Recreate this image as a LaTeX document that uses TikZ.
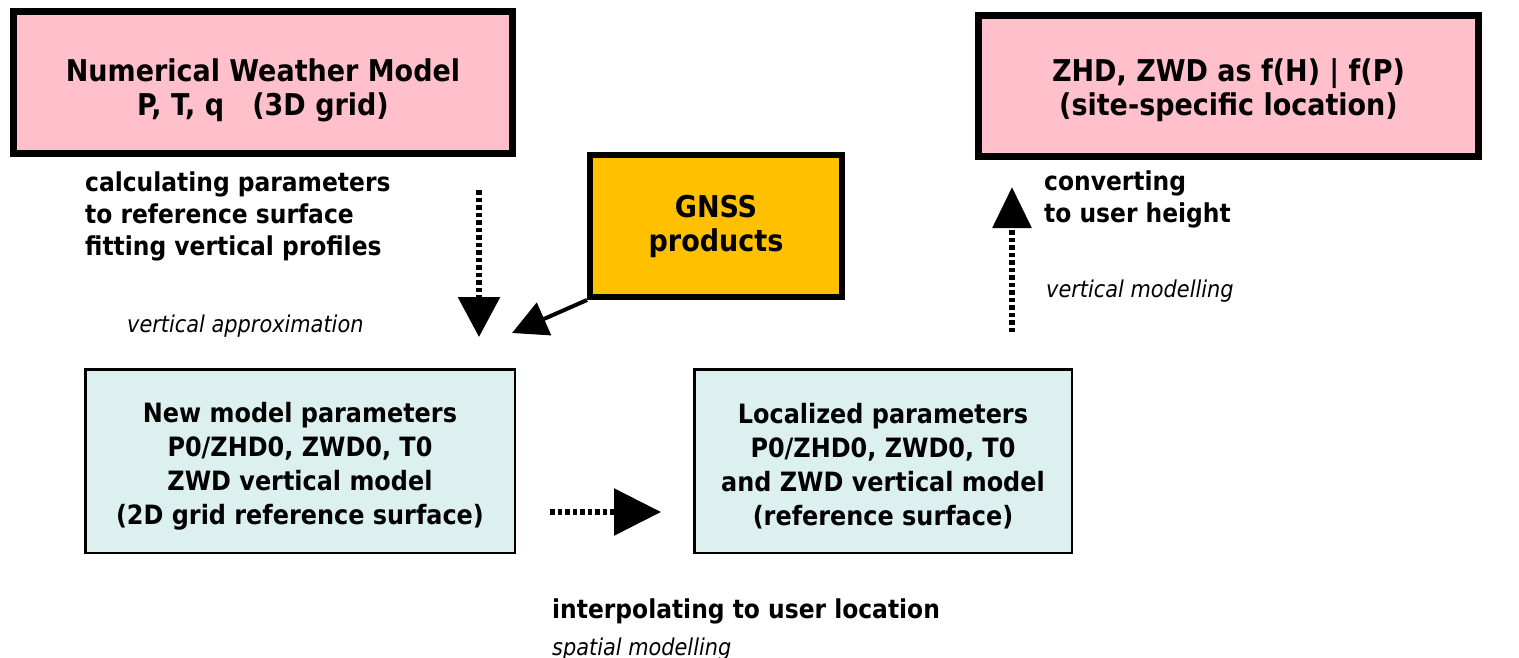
\documentclass[tikz,border=0pt]{standalone}
\usepackage{fontspec}
\setmainfont{DejaVu Sans Condensed}
\usetikzlibrary{arrows.meta}

\definecolor{nwpink}{HTML}{FFBFCB}
\definecolor{paleblue}{HTML}{DDF0F0}
\definecolor{gnssgold}{HTML}{FFC000}

\newcommand\bigboxfont{\fontsize{30}{34}\selectfont\bfseries}
\newcommand\smallboxfont{\fontsize{26.6}{34}\selectfont\bfseries}
\newcommand\notefont{\fontsize{26}{32}\selectfont\bfseries}
\newcommand\slantfont{\fontsize{23.2}{27}\selectfont\itshape}
% invisible strut that sets the height of a first line
\newcommand\padtop[1]{\rule{0pt}{#1pt}}

\begin{document}
\begin{tikzpicture}[x=1pt,y=-1pt,
  topbox/.style={draw=black, line width=7pt, fill=nwpink, inner sep=0pt,
    align=center, font=\bigboxfont},
  gnssbox/.style={draw=black, line width=6pt, fill=gnssgold, inner sep=0pt,
    align=center, font=\bigboxfont},
  parambox/.style={draw=black, line width=2.5pt, fill=paleblue, inner sep=0pt,
    align=center, font=\smallboxfont, minimum height=183.5pt},
  note/.style={inner sep=0pt, align=left, font=\notefont},
  slant/.style={inner sep=0pt, anchor=base west, font=\slantfont},
  dotarrow/.style 2 args={line width=6pt, dash pattern=on 4.5pt off 3pt,
    -{Triangle[length=#1pt, width=#2pt]}},
  solidarrow/.style={line width=4pt, -{Triangle[length=35pt, width=35pt]}}
]
\useasboundingbox (0,0) rectangle (1519,657);

% input data and final products
\node[topbox, minimum width=499pt, minimum height=142pt] (nwm) at (263,82.5)
  {\padtop{38}Numerical Weather Model\\P, T, q\ \ \ (3D grid)};
\node[topbox, minimum width=500pt, minimum height=141pt] (site) at (1228.5,86)
  {\padtop{32}ZHD, ZWD as f(H) | f(P)\\(site-specific location)};
\node[gnssbox, minimum width=252pt, minimum height=142pt] (gnss) at (716,226)
  {GNSS\\products};

% intermediate parameter sets
\node[parambox, minimum width=429.5pt] (newpar) at (300,461)
  {\padtop{31}New model parameters\\P0/ZHD0, ZWD0, T0\\ZWD vertical model\\(2D grid reference surface)};
\node[parambox, minimum width=377.5pt] (locpar) at (883,461)
  {\padtop{30}Localized parameters\\P0/ZHD0, ZWD0, T0\\and ZWD vertical model\\(reference surface)};

% processing steps
\coordinate (vaTop) at (479,190);
\coordinate (vaTip) at (479,337);
\draw[dotarrow={40}{41}] (vaTop) -- (vaTip);

\coordinate (gnssTip) at (512,333);
\draw[solidarrow] (gnss.south west) -- (gnssTip);

\coordinate (spStart) at (550,512);
\coordinate (spTip) at (661,512);
\draw[dotarrow={47}{46}] (spStart) -- (spTip);

\coordinate (vmBottom) at (1012,332);
\coordinate (vmTip) at (1012,187);
\draw[dotarrow={41}{38}] (vmBottom) -- (vmTip);

% step descriptions
\node[note, anchor=north west] (calc) at (85,171)
  {\padtop{20}calculating parameters\\to reference surface\\fitting vertical profiles};
\node[slant] (vapprox) at (127,332) {vertical approximation};

\node[note, anchor=north west] (conv) at (1044,170)
  {\padtop{20}converting\\to user height};
\node[slant] (vmodel) at (1046,297) {vertical modelling};

\node[note, anchor=base west] (interp) at (552,618) {interpolating to user location};
\node[slant] (spatial) at (552,655) {spatial modelling};
\end{tikzpicture}
\end{document}
